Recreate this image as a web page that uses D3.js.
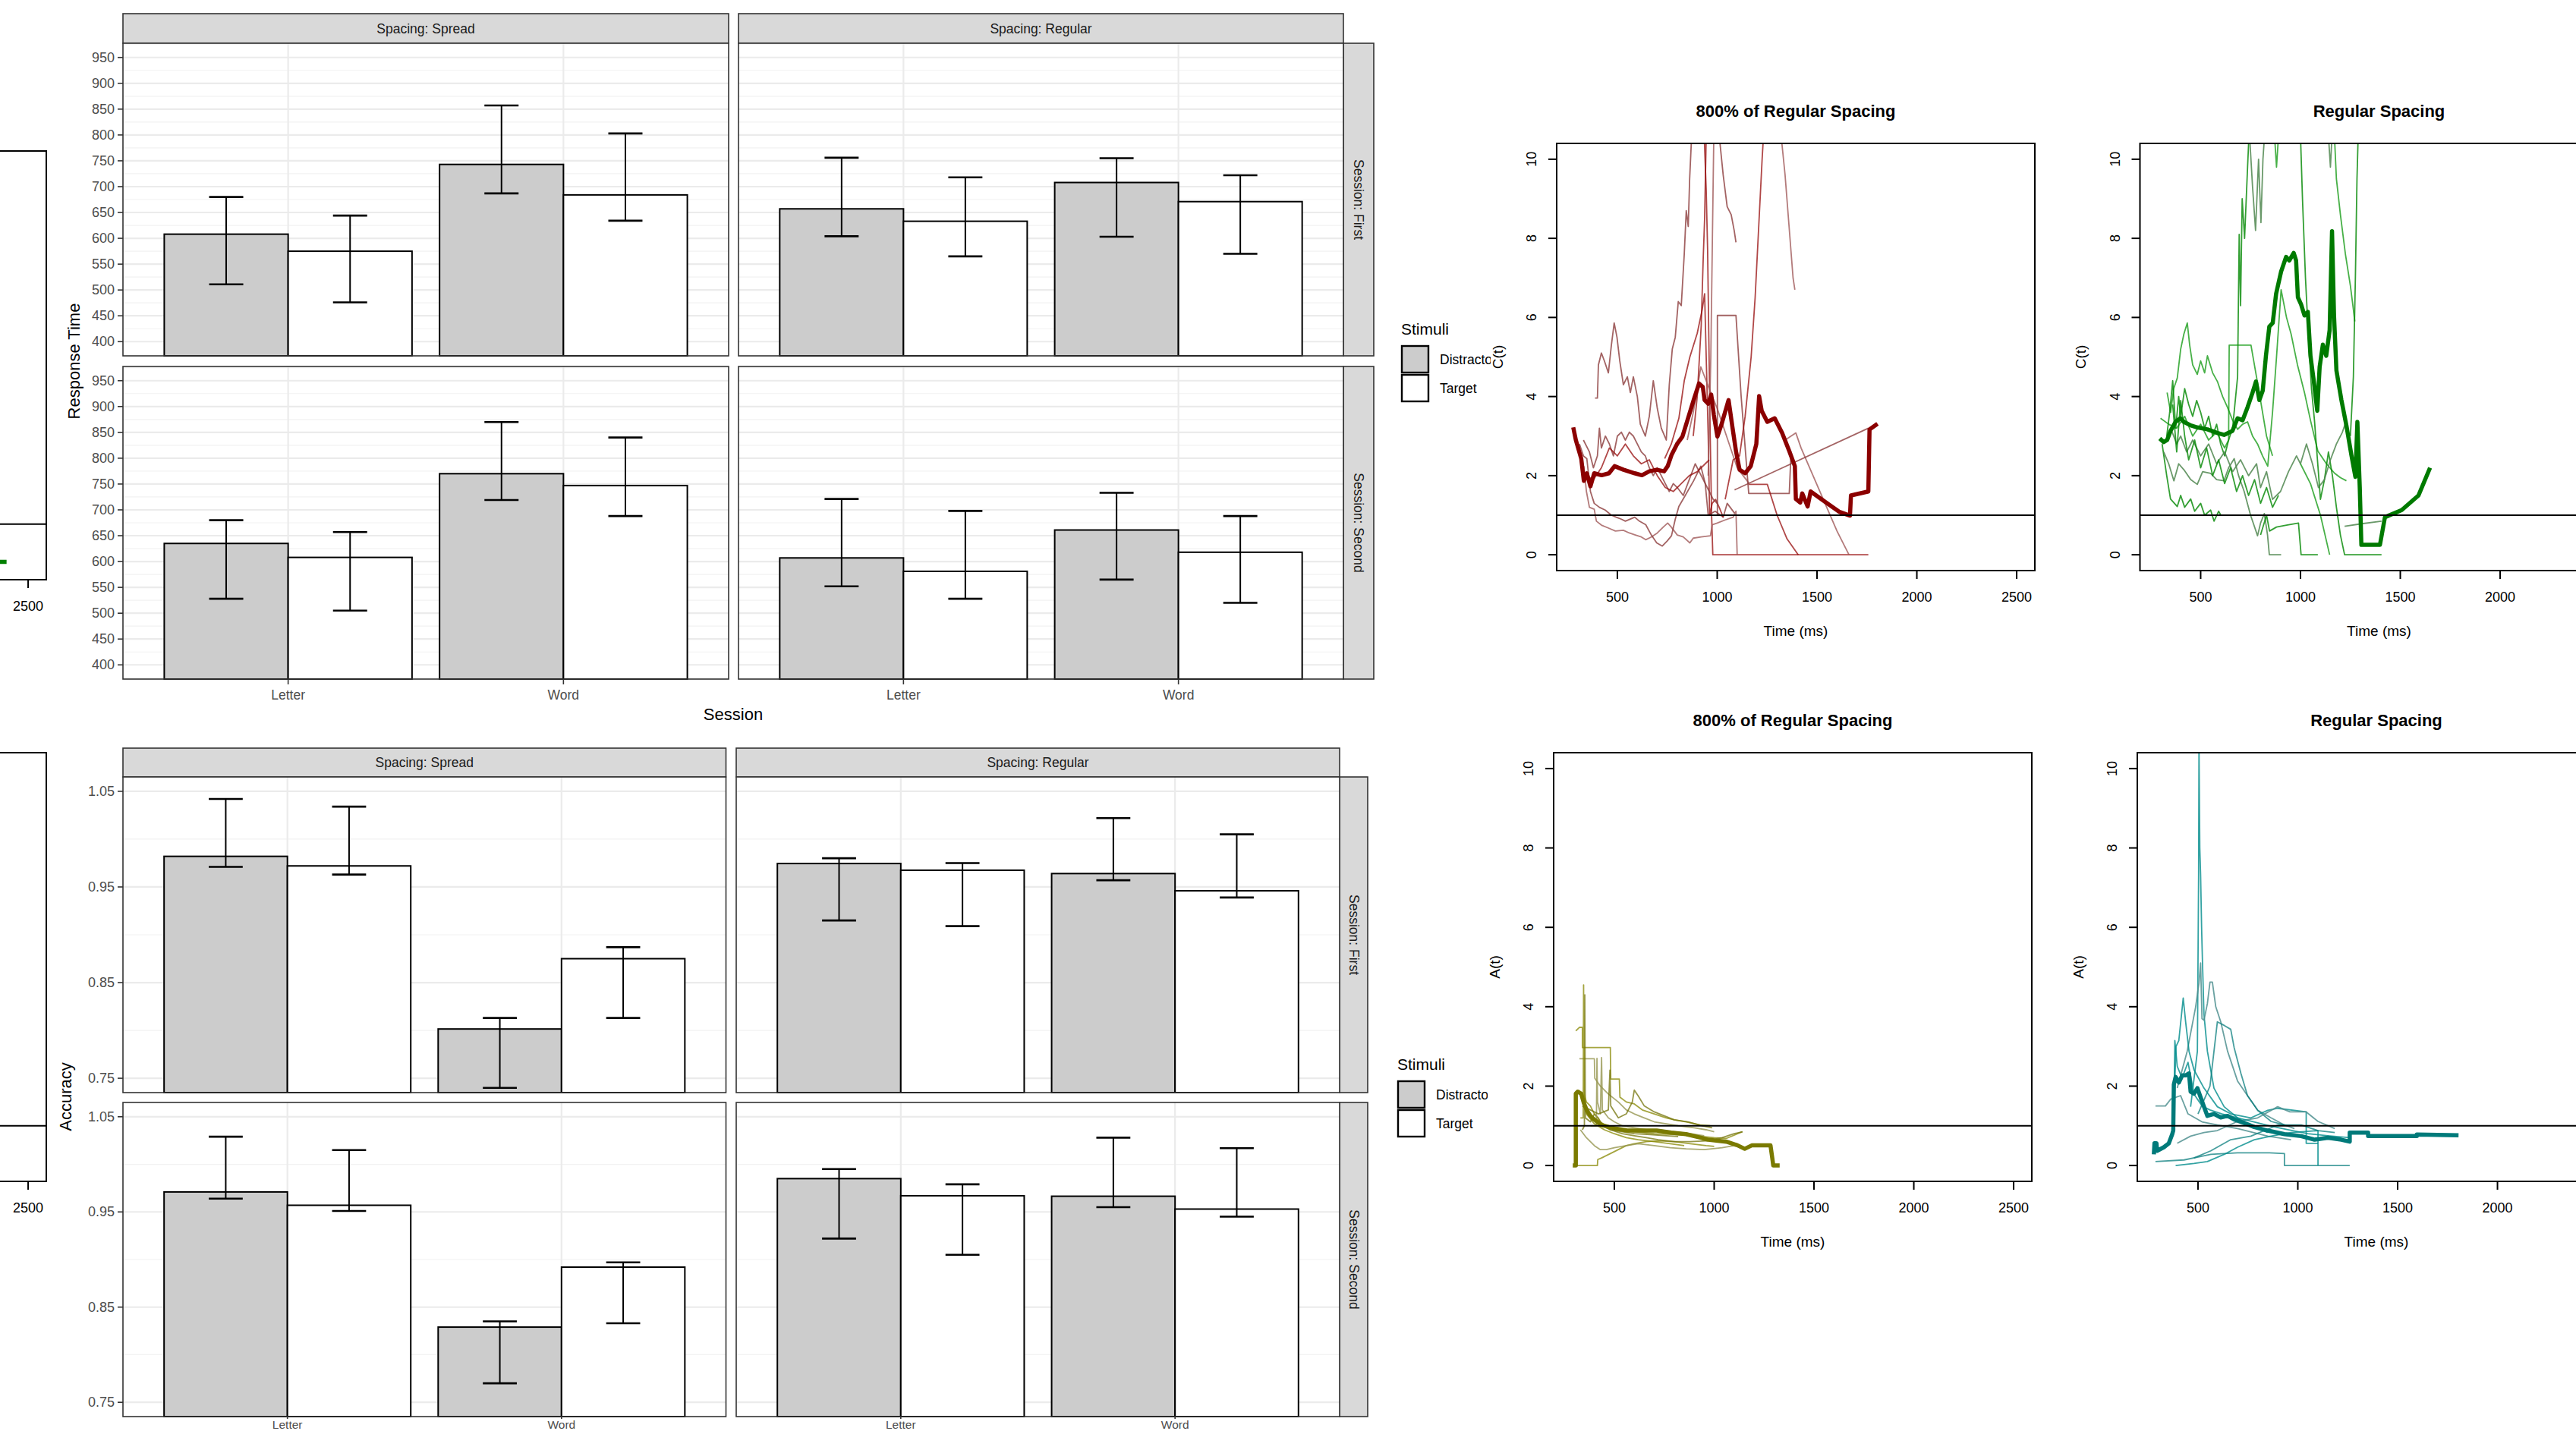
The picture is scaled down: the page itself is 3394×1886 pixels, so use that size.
<!DOCTYPE html>
<html><head><meta charset="utf-8">
<script src="https://cdn.jsdelivr.net/npm/d3@7"></script>
<style>body{margin:0;background:#fff;} svg{display:block;}</style>
</head><body><svg id="chart" width="3394" height="1886"></svg>
<script>
// ---------------- DATA ----------------
const wordTypes = ["Letter", "Word"];
const stimuli = ["Distractor", "Target"];
const spacings = ["Spread", "Regular"];
const sessions = ["First", "Second"];
const rtTicks = [400, 450, 500, 550, 600, 650, 700, 750, 800, 850, 900, 950];
const accTicks = [0.75, 0.85, 0.95, 1.05];
const timeTicks = [500, 1000, 1500, 2000, 2500];
const ratioTicks = [0, 2, 4, 6, 8, 10];

// order: Letter-Distractor, Letter-Target, Word-Distractor, Word-Target
const rtMeanSpreadFirst = [608, 575, 743, 684];
const rtLowSpreadFirst = [511, 476, 687, 634];
const rtHighSpreadFirst = [680, 644, 857, 803];
const rtMeanRegularFirst = [657, 633, 708, 671];
const rtLowRegularFirst = [604, 565, 603, 570];
const rtHighRegularFirst = [756, 718, 755, 722];
const rtMeanSpreadSecond = [635, 608, 770, 747];
const rtLowSpreadSecond = [528, 505, 719, 688];
const rtHighSpreadSecond = [680, 657, 870, 840];
const rtMeanRegularSecond = [607, 581, 661, 618];
const rtLowRegularSecond = [552, 528, 565, 520];
const rtHighRegularSecond = [721, 698, 733, 688];

const accMeanSpreadFirst = [0.982, 0.972, 0.8015, 0.875];
const accLowSpreadFirst = [0.971, 0.963, 0.740, 0.813];
const accHighSpreadFirst = [1.042, 1.034, 0.813, 0.887];
const accMeanRegularFirst = [0.9745, 0.9675, 0.964, 0.946];
const accLowRegularFirst = [0.915, 0.909, 0.957, 0.939];
const accHighRegularFirst = [0.980, 0.975, 1.022, 1.005];
const accMeanSpreadSecond = [0.971, 0.957, 0.829, 0.892];
const accLowSpreadSecond = [0.964, 0.951, 0.770, 0.833];
const accHighSpreadSecond = [1.029, 1.015, 0.835, 0.897];
const accMeanRegularSecond = [0.985, 0.967, 0.9665, 0.953];
const accLowRegularSecond = [0.922, 0.905, 0.955, 0.945];
const accHighRegularSecond = [0.995, 0.979, 1.028, 1.017];

// capacity C(t), 800% of regular spacing: [time ms, value]
const ctSpreadMean = [[279,3.22],[292,2.9],[319,2.43],[332,1.87],[347,2.06],[365,1.73],[384,2.06],[421,2.01],[458,2.06],[486,2.24],[531,2.15],[587,2.06],[623,2.01],[660,2.11],[697,2.15],[734,2.11],[752,2.24],[771,2.52],[799,2.8],[826,2.99],[854,3.45],[882,3.91],[909,4.33],[928,4.24],[937,3.91],[955,3.82],[970,4.05],[983,3.54],[1001,2.99],[1020,3.27],[1057,3.91],[1075,3.27],[1094,2.62],[1112,2.15],[1140,2.06],[1168,2.24],[1196,2.8],[1210,4.01],[1223,3.64],[1251,3.36],[1288,3.45],[1325,3.08],[1361,2.62],[1389,2.24],[1394,1.41],[1416,1.32],[1426,1.55],[1453,1.22],[1468,1.6],[1545,1.32],[1610,1.09],[1665,0.99],[1670,1.5],[1757,1.6],[1763,3.17],[1803,3.31]];
const ctSpreadSubjects = [
  [[388,3.96],[400,3.96],[405,4.8],[420,5.1],[435,4.9],[455,4.6],[470,5.3],[484,5.86],[498,5.5],[512,4.9],[530,4.3],[550,4.5],[565,4.1],[580,4.5],[600,4.0],[615,3.3],[640,3.0],[660,3.5],[680,4.4],[700,3.7],[720,3.2],[745,2.9],[760,4.3],[775,5.2],[790,5.5],[805,6.4],[820,6.3],[835,7.6],[845,8.7],[855,8.3],[862,9.5],[872,10.6]],
  [[935,10.6],[945,9.2],[952,7.7],[958,5.5],[965,3.0],[972,1.0],[978,0],[1757,0]],
  [[332,2.24],[345,1.6],[360,1.2],[384,1.15],[395,0.85],[420,0.75],[458,0.67],[490,0.6],[530,0.62],[560,0.55],[590,0.5],[620,0.45],[642,0.38],[670,0.45],[700,0.55],[730,0.7],[752,0.8],[770,0.7],[800,0.5],[830,0.45],[863,0.3],[880,0.42],[920,0.45],[966,0.48],[975,0.76],[1000,0.8],[1040,0.88],[1080,0.95],[1094,1.1],[1100,0]],
  [[310,2.8],[330,2.5],[347,2.43],[365,1.6],[384,1.3],[410,1.2],[439,1.13],[470,1.0],[494,0.95],[520,0.9],[540,0.85],[587,0.95],[610,0.85],[642,0.76],[670,0.5],[697,0.3],[725,0.22],[750,0.35],[771,0.48],[790,0.9],[808,1.22],[840,1.5],[882,1.87],[918,2.24],[940,1.8],[955,1.0],[990,1.1],[1030,0.95],[1050,1.3],[1087,1.05]],
  [[737,2.43],[770,2.8],[808,3.45],[835,4.4],[863,5.0],[900,5.6],[925,6.2],[937,6.6],[946,4.8],[955,3.0],[962,1.0],[975,1.3],[992,1.4],[1010,1.2],[1030,0.95]],
  [[850,2.9],[880,3.6],[900,4.2],[918,4.75],[960,4.2],[1000,3.7],[1040,3.1],[1080,2.5],[1100,2.2],[1130,2.0],[1160,1.8]],
  [[985,1.0],[1001,1.0],[1001,6.05],[1094,6.05],[1120,4.0],[1158,1.55],[1361,1.55],[1370,2.6]],
  [[1158,1.78],[1251,1.78],[1300,1.0],[1350,0.4],[1406,0]],
  [[1300,3.3],[1340,2.9],[1394,3.08],[1420,2.7],[1480,2.0],[1540,1.3],[1600,0.6],[1660,0]],
  [[1087,1.64],[1757,3.2]],
  [[1040,1.4],[1080,2.4],[1112,2.5],[1140,3.5],[1170,5.0],[1190,6.5],[1210,8.5],[1225,10.0],[1232,10.6]],
  [[1320,10.6],[1340,9.6],[1360,8.3],[1380,7.0],[1389,6.7]],
  [[1010,10.6],[1030,9.6],[1050,8.8],[1070,8.6],[1085,8.2],[1094,7.9]],
  [[880,3.0],[900,4.0],[920,5.8],[930,7.5],[937,8.5],[945,10.6]],
  [[955,2.0],[968,5.0],[976,8.0],[983,10.6]],
  [[330,2.9],[360,2.6],[380,2.2],[400,2.5],[410,3.2],[420,2.7],[440,3.0],[460,2.8],[480,2.5],[500,3.0],[520,3.1],[540,2.9],[560,3.1],[580,3.0],[600,2.8],[620,2.6],[640,2.5],[660,2.2],[680,2.0],[700,2.2],[720,2.0],[740,1.8],[760,1.6],[780,1.8],[800,1.7],[830,1.5],[860,1.9],[890,2.3],[920,2.0],[950,1.7],[980,1.4],[1000,1.3]],
  [[340,2.0],[380,1.9],[420,2.2],[460,2.7],[500,2.5],[540,2.8],[580,2.5],[620,2.3],[660,2.4],[700,2.0],[740,1.7],[780,1.6],[820,1.8],[860,2.0],[900,2.1],[940,2.3],[960,2.4]]
];

// capacity C(t), regular spacing
const ctRegularMean = [[295,2.94],[315,2.85],[332,2.9],[349,3.13],[374,3.36],[399,3.45],[416,3.36],[450,3.27],[483,3.22],[534,3.17],[584,3.08],[617,3.03],[659,3.13],[685,3.45],[710,3.4],[735,3.73],[760,4.1],[777,4.38],[794,3.91],[811,4.15],[827,5.03],[844,5.77],[861,5.86],[878,6.6],[903,7.16],[928,7.53],[944,7.44],[966,7.63],[978,7.44],[987,6.51],[1003,6.33],[1020,6.05],[1037,6.14],[1050,5.03],[1067,4.38],[1084,3.64],[1096,4.75],[1112,5.31],[1129,5.03],[1146,5.68],[1158,8.18],[1168,6.05],[1180,4.66],[1205,3.91],[1230,3.27],[1255,2.52],[1275,1.97],[1285,3.36],[1297,1.69],[1305,0.25],[1398,0.25],[1423,0.95],[1507,1.13],[1591,1.5],[1649,2.2]];
const ctRegularSubjects = [
  [[307,2.8],[330,2.0],[349,1.41],[383,1.22],[400,1.5],[420,1.2],[450,1.41],[470,1.1],[500,1.3],[520,1.0],[550,1.13],[567,0.85],[590,1.1],[601,1.0]],
  [[315,2.6],[340,2.3],[366,1.87],[390,2.3],[416,2.15],[450,1.9],[483,1.78],[510,2.1],[550,2.06],[580,1.9],[617,1.87],[640,2.2],[668,2.43],[690,2.0],[718,1.6],[750,1.0],[785,0.48],[800,0.8],[819,1.04],[835,0.5],[844,0],[903,0]],
  [[332,4.1],[350,3.6],[365,4.2],[383,4.47],[400,5.2],[416,5.58],[433,5.86],[445,5.3],[460,4.8],[483,4.56],[500,4.9],[520,4.6],[534,5.03],[560,4.6],[584,4.38],[610,4.0],[634,3.73],[660,3.4],[685,3.17],[710,3.3],[735,3.36],[760,3.0],[785,2.8],[810,2.5],[836,2.24],[860,3.6],[880,5.0],[903,6.7],[930,6.0],[953,5.58],[985,4.8],[1020,4.1],[1050,3.4],[1087,2.62],[1130,2.3],[1171,2.06],[1200,1.95],[1230,1.87]],
  [[330,3.0],[345,3.6],[360,4.4],[375,3.2],[390,4.0],[400,3.5],[420,4.2],[440,3.8],[460,3.5],[480,3.9],[500,3.6],[520,3.2],[540,3.5],[560,3.0],[580,3.3],[600,2.8],[620,2.5],[640,2.9],[660,3.2],[685,4.5],[693,8.1],[700,6.3],[708,9.0],[720,8.0],[735,9.8],[742,10.6]],
  [[745,10.6],[760,9.3],[775,8.2],[790,10.0],[802,8.4],[812,10.0],[820,10.6]],
  [[870,10.6],[880,9.8],[890,10.6]],
  [[1000,10.6],[1010,9.0],[1025,7.0],[1040,5.5],[1055,4.2],[1070,3.4],[1085,2.4],[1100,1.4],[1120,1.9],[1140,2.6],[1160,2.0],[1180,1.2],[1200,0.5],[1221,0],[1406,0]],
  [[1140,10.6],[1150,9.8],[1158,10.6]],
  [[1170,10.6],[1180,9.5],[1200,8.6],[1225,7.6],[1250,6.8],[1265,6.2],[1272,5.9]],
  [[1250,3.0],[1265,4.5],[1275,7.0],[1283,9.5],[1289,10.6]],
  [[350,3.2],[380,2.8],[400,3.0],[430,2.6],[460,2.9],[500,2.5],[540,2.8],[580,2.3],[620,2.6],[660,2.1],[700,2.4],[740,2.0],[780,2.3],[800,1.7],[830,2.1],[860,1.4],[900,1.6],[940,2.1],[980,2.5],[1000,2.3],[1030,2.8],[1060,2.3],[1090,1.7],[1120,1.9],[1150,2.4],[1180,2.8],[1210,3.1],[1230,3.4]],
  [[299,3.45],[340,3.3],[380,3.2],[420,3.5],[460,3.0],[500,3.3],[540,2.9],[580,3.1],[620,2.7],[640,2.9],[643,5.3],[752,5.3],[790,4.2],[830,3.0],[860,2.5]],
  [[800,0.5],[830,1.0],[845,0.6],[880,0.7],[930,0.75],[990,0.8],[1003,0],[1087,0]],
  [[1221,0.72],[1300,0.78],[1406,0.85]],
  [[1000,2.3],[1050,1.8],[1100,1.0],[1146,0]],
  [[360,3.8],[380,2.6],[400,3.9],[420,3.0],[440,2.4],[470,2.9],[500,2.2],[530,2.7],[560,2.0],[590,2.4],[620,1.8],[650,2.2],[680,1.6],[710,2.0],[740,1.5],[770,1.9],[800,1.3],[830,1.7],[860,1.2],[890,1.5]]
];

// assessment A(t), 800% of regular spacing
const atSpreadMean = [[292,0],[307,0],[307,1.81],[316,1.86],[334,1.81],[347,1.58],[362,1.39],[380,1.25],[399,1.16],[436,1.02],[472,0.97],[509,0.93],[564,0.88],[638,0.88],[712,0.88],[785,0.83],[859,0.79],[932,0.7],[969,0.65],[1061,0.6],[1116,0.51],[1153,0.42],[1190,0.51],[1282,0.51],[1291,0.19],[1296,0],[1328,0]];
const atSpreadSubjects = [
  [[307,3.39],[325,3.48],[340,3.48],[340,2.97],[480,2.97],[482,2.18],[525,2.18],[528,1.72],[560,1.6],[600,1.55],[640,1.4],[700,1.3],[760,1.2],[800,1.15],[860,1.1],[930,1.02],[980,1.0]],
  [[325,2.69],[400,2.69],[402,2.2],[430,2.0],[470,1.8],[520,1.6],[560,1.4],[600,1.3],[650,1.2],[700,1.1],[760,1.05],[820,1.0],[900,0.95],[960,0.9],[1000,0.85]],
  [[340,0.9],[350,1.0],[352,4.3],[355,1.2],[380,1.1],[400,1.3],[420,1.2],[440,1.0],[480,0.9],[540,0.85],[600,0.8],[680,0.78],[760,0.75],[820,0.73]],
  [[330,1.2],[344,1.2],[346,4.55],[348,1.8],[360,1.6],[380,1.5],[400,1.3],[430,1.1],[470,0.95],[520,0.9],[600,0.85],[700,0.8],[800,0.78],[900,0.75],[1000,0.7],[1060,0.68],[1140,0.85]],
  [[380,1.0],[410,1.0],[413,2.7],[416,1.6],[430,1.3],[436,2.72],[440,1.4],[470,1.2],[500,1.1],[540,1.0],[600,0.95],[660,0.9],[720,0.9],[800,0.85],[880,0.8],[950,0.75]],
  [[340,1.5],[380,1.4],[420,1.3],[470,1.4],[478,2.4],[482,1.5],[520,1.2],[560,1.3],[590,1.6],[600,1.9],[620,1.75],[650,1.5],[700,1.35],[750,1.25],[800,1.15],[870,1.1],[940,1.0],[990,0.95]],
  [[300,0],[415,0],[417,0.15],[440,0.2],[480,0.3],[520,0.4],[560,0.5],[600,0.55],[660,0.6],[720,0.62],[800,0.6],[880,0.55],[960,0.5],[1000,0.48]],
  [[330,0.9],[360,0.7],[400,0.5],[430,0.4],[460,0.4],[500,0.45],[560,0.5],[620,0.55],[700,0.5],[780,0.45],[860,0.42],[950,0.4],[1040,0.45],[1100,0.5]],
  [[380,1.3],[420,1.1],[480,0.9],[540,0.8],[600,0.75],[660,0.7],[720,0.65],[800,0.6],[880,0.6],[960,0.62],[1040,0.7],[1100,0.8],[1143,0.85]],
  [[320,1.9],[335,1.8],[360,1.3],[400,1.05],[450,0.9],[500,0.8],[560,0.7],[620,0.65],[700,0.6],[780,0.55],[850,0.5]]
];

// assessment A(t), regular spacing
const atRegularMean = [[279,0.28],[282,0.56],[292,0.56],[295,0.37],[329,0.46],[354,0.56],[371,0.79],[376,0.88],[379,2.04],[388,2.23],[404,2.09],[421,2.27],[438,2.27],[455,2.32],[463,1.86],[480,1.81],[497,1.95],[513,1.72],[530,1.48],[547,1.25],[580,1.3],[614,1.21],[648,1.25],[681,1.16],[732,1.07],[782,0.97],[849,0.88],[933,0.79],[1017,0.74],[1084,0.65],[1151,0.7],[1218,0.65],[1260,0.6],[1260,0.83],[1352,0.83],[1352,0.74],[1596,0.74],[1596,0.78],[1805,0.76]];
const atRegularSubjects = [
  [[463,1.48],[497,2.88],[503,7.3],[505,10.6],[509,8.0],[513,7.33],[518,6.0],[522,5.2],[530,3.8],[547,2.88],[580,1.95],[631,1.48],[698,1.2],[765,1.02],[849,0.83]],
  [[396,1.95],[446,2.88],[488,3.99],[505,4.6],[513,5.1],[520,3.7],[530,3.66],[547,4.08],[560,4.62],[572,4.62],[589,4.0],[614,3.62],[648,2.88],[698,2.13],[748,1.76],[799,1.39],[866,1.2],[933,1.02],[983,0.93]],
  [[500,1.3],[560,2.0],[597,3.62],[631,3.53],[664,3.43],[681,2.97],[715,2.32],[748,1.76],[799,1.39],[866,1.11],[933,1.02]],
  [[379,1.48],[390,3.0],[404,3.15],[426,4.22],[438,3.62],[455,2.88],[480,2.41],[530,1.95],[597,1.48],[664,1.3],[765,1.2],[849,1.39],[899,1.44],[1042,1.35],[1042,0.56],[1101,0.56]],
  [[287,1.5],[337,1.5],[363,1.67],[413,1.76],[450,1.3],[520,1.1],[597,1.02],[698,0.93],[849,0.74],[966,0.65]],
  [[287,0.1],[430,0.14],[564,0.28],[698,0.32],[774,0.32],[858,0.32],[933,0.3],[933,0],[1260,0]],
  [[388,0],[480,0.05],[547,0.1],[631,0.28],[698,0.46],[782,0.65],[866,0.74],[966,0.83],[1101,0.88],[1101,0]],
  [[396,0.56],[463,0.74],[530,0.83],[597,0.88],[698,1.11],[799,1.2],[899,1.48],[960,1.35],[1042,1.35],[1101,1.11],[1185,0.93]],
  [[480,0.19],[564,0.37],[664,0.65],[765,0.74],[899,1.02],[1017,1.02],[1101,0.88],[1185,0.83]],
  [[379,1.02],[384,3.15],[396,2.5],[420,2.2],[450,2.6],[480,1.8],[520,1.5],[560,1.4],[620,1.3],[700,1.2],[780,1.1],[860,1.0],[950,0.9],[1050,0.8],[1150,0.75],[1260,0.7]]
];

// partially visible plots at the far left
const ctPrevMean = [[2250,0.05],[2392,0.05]];
const atPrevMean = [];

// ---------------- DRAWING ----------------
const W = 3394, H = 1886;
const FONT = '"Liberation Sans", Arial, Helvetica, sans-serif';
const svg = d3.select("#chart").attr("font-family", FONT);
svg.append("rect").attr("width", W).attr("height", H).attr("fill", "#fff");
const defs = svg.append("defs");
let clipCount = 0;
const onCanvas = (cx, half) => cx - half >= 0 && cx + half <= W;

function linePlot(cfg) {
  const bw = 630, bh = cfg.bh || 564;
  const bx = cfg.bx, by = cfg.by;
  const g = svg.append("g");
  if (cfg.bg) g.append("rect").attr("x", bx - 87).attr("y", by - 110).attr("width", 768).attr("height", bh + 230).attr("fill", "#fff");
  const x = d3.scaleLinear().domain([196, 2591]).range([bx, bx + bw]);
  const y = d3.scaleLinear().domain([-0.4, 10.4]).range([by + bh, by]);
  const id = "clip" + (clipCount++);
  defs.append("clipPath").attr("id", id).append("rect").attr("x", bx).attr("y", by).attr("width", bw).attr("height", bh);
  const inner = g.append("g").attr("clip-path", `url(#${id})`);
  const line = d3.line().x(d => x(d[0])).y(d => y(d[1]));
  (cfg.subjects || []).forEach((s, i) => {
    inner.append("path").attr("d", line(s)).attr("fill", "none")
      .attr("stroke", cfg.thin[i % cfg.thin.length]).attr("stroke-width", 1.8).attr("stroke-linejoin", "round");
  });
  if (cfg.mean && cfg.mean.length) {
    inner.append("path").attr("d", line(cfg.mean)).attr("fill", "none")
      .attr("stroke", cfg.color).attr("stroke-width", 5.5).attr("stroke-linejoin", "round");
  }
  inner.append("line").attr("x1", bx).attr("x2", bx + bw).attr("y1", y(1)).attr("y2", y(1)).attr("stroke", "#000").attr("stroke-width", 2);
  g.append("rect").attr("x", bx).attr("y", by).attr("width", bw).attr("height", bh).attr("fill", "none").attr("stroke", "#000").attr("stroke-width", 2);
  timeTicks.forEach(t => {
    if (x(t) < 0 || x(t) > W) return;
    g.append("line").attr("x1", x(t)).attr("x2", x(t)).attr("y1", by + bh).attr("y2", by + bh + 11).attr("stroke", "#000").attr("stroke-width", 2);
    if (onCanvas(x(t), 22)) {
      g.append("text").attr("x", x(t)).attr("y", by + bh + 35).attr("text-anchor", "middle").attr("dominant-baseline", "central")
        .attr("font-size", 18).attr("fill", "#000").text(t);
    }
  });
  if (bx - 11 >= 0) {
    ratioTicks.forEach(t => {
      g.append("line").attr("x1", bx - 11).attr("x2", bx).attr("y1", y(t)).attr("y2", y(t)).attr("stroke", "#000").attr("stroke-width", 2);
      g.append("text").attr("transform", `translate(${bx - 33},${y(t)}) rotate(-90)`).attr("text-anchor", "middle").attr("dominant-baseline", "central")
        .attr("font-size", 18).attr("fill", "#000").text(t);
    });
  }
  if (onCanvas(bx + bw / 2, 45)) {
    g.append("text").attr("x", bx + bw / 2).attr("y", by + bh + 79).attr("text-anchor", "middle").attr("dominant-baseline", "central")
      .attr("font-size", 19).text("Time (ms)");
  }
  if (bx - 78 >= 10) {
    g.append("text").attr("transform", `translate(${bx - 78},${by + bh / 2}) rotate(-90)`).attr("text-anchor", "middle").attr("dominant-baseline", "central")
      .attr("font-size", 19).text(cfg.ylab);
  }
  if (cfg.title && onCanvas(bx + bw / 2, 140)) {
    g.append("text").attr("x", bx + bw / 2).attr("y", by - 43).attr("text-anchor", "middle").attr("dominant-baseline", "central")
      .attr("font-size", 22).attr("font-weight", "bold").text(cfg.title);
  }
}

function barChart(cfg) {
  const g = svg.append("g");
  const stripX = cfg.cols[1][1];
  cfg.cols.forEach((c, ci) => {
    g.append("rect").attr("x", c[0]).attr("y", cfg.stripTop).attr("width", c[1] - c[0]).attr("height", cfg.rows[0][0] - cfg.stripTop)
      .attr("fill", "#D9D9D9").attr("stroke", "#333").attr("stroke-width", 1.6);
    g.append("text").attr("x", (c[0] + c[1]) / 2).attr("y", (cfg.stripTop + cfg.rows[0][0]) / 2).attr("text-anchor", "middle")
      .attr("dominant-baseline", "central").attr("font-size", 17.5).attr("fill", "#1A1A1A").text("Spacing: " + spacings[ci]);
  });
  cfg.rows.forEach((r, ri) => {
    g.append("rect").attr("x", stripX).attr("y", r[0]).attr("width", cfg.rowStripW).attr("height", r[1] - r[0])
      .attr("fill", "#D9D9D9").attr("stroke", "#333").attr("stroke-width", 1.6);
    g.append("text").attr("transform", `translate(${stripX + cfg.rowStripW / 2},${(r[0] + r[1]) / 2}) rotate(90)`)
      .attr("text-anchor", "middle").attr("dominant-baseline", "central").attr("font-size", 17.5).attr("fill", "#1A1A1A")
      .text("Session: " + sessions[ri]);
  });
  cfg.panels.forEach(p => {
    const [x0, x1] = cfg.cols[p.col];
    const [y0, y1] = cfg.rows[p.row];
    const x = d3.scaleLinear().domain([0.4, 2.6]).range([x0, x1]);
    const y = d3.scaleLinear().domain(cfg.yDomain).range([y1, y0]).clamp(true);
    const pg = g.append("g");
    pg.append("rect").attr("x", x0).attr("y", y0).attr("width", x1 - x0).attr("height", y1 - y0).attr("fill", "#fff");
    cfg.minor.forEach(v => {
      pg.append("line").attr("x1", x0).attr("x2", x1).attr("y1", y(v)).attr("y2", y(v)).attr("stroke", "#F2F2F2").attr("stroke-width", 1.2);
    });
    cfg.ticks.forEach(v => {
      pg.append("line").attr("x1", x0).attr("x2", x1).attr("y1", y(v)).attr("y2", y(v)).attr("stroke", "#EBEBEB").attr("stroke-width", 2.2);
    });
    [1, 2].forEach(c => {
      pg.append("line").attr("x1", x(c)).attr("x2", x(c)).attr("y1", y0).attr("y2", y1).attr("stroke", "#EBEBEB").attr("stroke-width", 2.2);
    });
    p.mean.forEach((m, k) => {
      const cat = Math.floor(k / 2), st = k % 2;
      const xc = cat + 1 + (st ? 0.225 : -0.225);
      pg.append("rect").attr("x", x(xc - 0.225)).attr("width", x(xc + 0.225) - x(xc - 0.225))
        .attr("y", y(m)).attr("height", y1 - y(m))
        .attr("fill", st ? "#FFFFFF" : "#CCCCCC").attr("stroke", "#000").attr("stroke-width", 2);
    });
    p.mean.forEach((m, k) => {
      const cat = Math.floor(k / 2), st = k % 2;
      const xc = cat + 1 + (st ? 0.225 : -0.225);
      const hw = 0.062;
      pg.append("line").attr("x1", x(xc)).attr("x2", x(xc)).attr("y1", y(p.low[k])).attr("y2", y(p.high[k])).attr("stroke", "#000").attr("stroke-width", 2);
      [p.low[k], p.high[k]].forEach(v => {
        pg.append("line").attr("x1", x(xc - hw)).attr("x2", x(xc + hw)).attr("y1", y(v)).attr("y2", y(v)).attr("stroke", "#000").attr("stroke-width", 2.6);
      });
    });
    pg.append("rect").attr("x", x0).attr("y", y0).attr("width", x1 - x0).attr("height", y1 - y0).attr("fill", "none").attr("stroke", "#333").attr("stroke-width", 1.6);
    if (p.col === 0) {
      cfg.ticks.forEach(v => {
        pg.append("line").attr("x1", x0 - 7).attr("x2", x0).attr("y1", y(v)).attr("y2", y(v)).attr("stroke", "#333").attr("stroke-width", 1.6);
        pg.append("text").attr("x", x0 - 11).attr("y", y(v)).attr("text-anchor", "end").attr("dominant-baseline", "central")
          .attr("font-size", 18).attr("fill", "#4D4D4D").text(cfg.fmt(v));
      });
    }
    if (p.row === 1) {
      // keep the category labels inside the canvas when the chart touches the bottom edge
      const tickLen = Math.min(7, H - y1 - 16);
      const labelY = Math.min(y1 + 21, H - 9);
      const labelSize = labelY < y1 + 21 ? 15.5 : 17.5;
      wordTypes.forEach((w, i) => {
        pg.append("line").attr("x1", x(i + 1)).attr("x2", x(i + 1)).attr("y1", y1).attr("y2", y1 + tickLen).attr("stroke", "#333").attr("stroke-width", 1.6);
        pg.append("text").attr("x", x(i + 1)).attr("y", labelY).attr("text-anchor", "middle").attr("dominant-baseline", "central")
          .attr("font-size", labelSize).attr("fill", "#4D4D4D").text(w);
      });
    }
  });
  g.append("text").attr("transform", `translate(${cfg.ylabX},${(cfg.rows[0][0] + cfg.rows[1][1]) / 2}) rotate(-90)`)
    .attr("text-anchor", "middle").attr("dominant-baseline", "central").attr("font-size", 22).attr("fill", "#000").text(cfg.ylab);
  if (cfg.rows[1][1] + 46 < H - 15) {
    g.append("text").attr("x", (cfg.cols[0][0] + cfg.cols[1][1]) / 2).attr("y", cfg.rows[1][1] + 46).attr("text-anchor", "middle")
      .attr("dominant-baseline", "central").attr("font-size", 22).attr("fill", "#000").text("Session");
  }
  const L = cfg.legend;
  g.append("text").attr("x", L.x).attr("y", L.y).attr("font-size", 21).attr("fill", "#000").text("Stimuli");
  stimuli.forEach((s, i) => {
    const top = L.y + 15 + i * 38;
    g.append("rect").attr("x", L.x + 1).attr("y", top).attr("width", 35).attr("height", 35)
      .attr("fill", i ? "#FFFFFF" : "#CCCCCC").attr("stroke", "#000").attr("stroke-width", 2.4);
    g.append("text").attr("x", L.x + 51).attr("y", top + 18).attr("dominant-baseline", "central").attr("font-size", 17.5).attr("fill", "#000").text(s);
  });
}

// partially visible plots at the far left
linePlot({bx: -569, by: 199, bh: 565, title: "", ylab: "C(t)", mean: ctPrevMean, subjects: [], color: "#008000", thin: ["#008000"], bg: false});
linePlot({bx: -569, by: 992, bh: 565, title: "", ylab: "A(t)", mean: atPrevMean, subjects: [], color: "#008080", thin: ["#008080"], bg: false});

// bar charts
barChart({
  stripTop: 18, rows: [[57, 469], [483, 895]], cols: [[162, 960], [973, 1770]], rowStripW: 40,
  yDomain: [372.5, 977.5], ticks: rtTicks, minor: rtTicks.map(v => v - 25).concat([975]),
  fmt: d3.format("d"), ylab: "Response Time", ylabX: 97,
  legend: {x: 1846, y: 441},
  panels: [
    {row: 0, col: 0, mean: rtMeanSpreadFirst, low: rtLowSpreadFirst, high: rtHighSpreadFirst},
    {row: 0, col: 1, mean: rtMeanRegularFirst, low: rtLowRegularFirst, high: rtHighRegularFirst},
    {row: 1, col: 0, mean: rtMeanSpreadSecond, low: rtLowSpreadSecond, high: rtHighSpreadSecond},
    {row: 1, col: 1, mean: rtMeanRegularSecond, low: rtLowRegularSecond, high: rtHighRegularSecond}
  ]
});
barChart({
  stripTop: 986, rows: [[1024, 1440], [1453, 1867]], cols: [[162, 956.5], [970, 1765]], rowStripW: 37,
  yDomain: [0.735, 1.065], ticks: accTicks, minor: [0.80, 0.90, 1.00],
  fmt: d3.format(".2f"), ylab: "Accuracy", ylabX: 86,
  legend: {x: 1841, y: 1410},
  panels: [
    {row: 0, col: 0, mean: accMeanSpreadFirst, low: accLowSpreadFirst, high: accHighSpreadFirst},
    {row: 0, col: 1, mean: accMeanRegularFirst, low: accLowRegularFirst, high: accHighRegularFirst},
    {row: 1, col: 0, mean: accMeanSpreadSecond, low: accLowSpreadSecond, high: accHighSpreadSecond},
    {row: 1, col: 1, mean: accMeanRegularSecond, low: accLowRegularSecond, high: accHighRegularSecond}
  ]
});

// line plots
linePlot({bx: 2051, by: 189, bh: 563, title: "800% of Regular Spacing", ylab: "C(t)", mean: ctSpreadMean, subjects: ctSpreadSubjects,
  color: "#8B0000", thin: ["rgba(140,60,60,0.8)", "rgba(150,10,10,0.75)", "rgba(160,90,90,0.8)"], bg: true});
linePlot({bx: 2819.5, by: 189, bh: 563, title: "Regular Spacing", ylab: "C(t)", mean: ctRegularMean, subjects: ctRegularSubjects,
  color: "#007A00", thin: ["rgba(0,135,0,0.8)", "rgba(80,135,80,0.85)", "rgba(10,150,10,0.75)"], bg: true});
linePlot({bx: 2047, by: 992, bh: 565, title: "800% of Regular Spacing", ylab: "A(t)", mean: atSpreadMean, subjects: atSpreadSubjects,
  color: "#7A7A00", thin: ["rgba(135,135,0,0.75)", "rgba(150,150,80,0.8)", "rgba(115,115,10,0.75)"], bg: true});
linePlot({bx: 2816, by: 992, bh: 565, title: "Regular Spacing", ylab: "A(t)", mean: atRegularMean, subjects: atRegularSubjects,
  color: "#007A7A", thin: ["rgba(0,140,140,0.8)", "rgba(80,145,145,0.85)", "rgba(10,125,125,0.75)"], bg: true});
</script></body></html>
